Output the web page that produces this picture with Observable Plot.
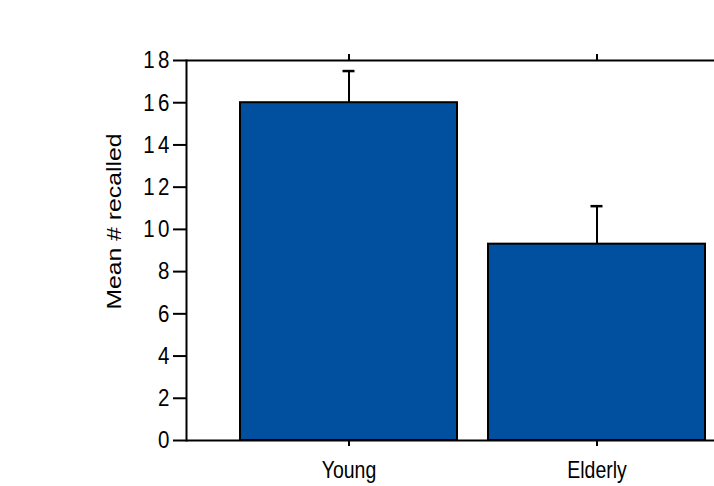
<!DOCTYPE html>
<html>
<head>
<meta charset="utf-8">
<script src="https://cdn.jsdelivr.net/npm/d3@7"></script>
<script src="https://cdn.jsdelivr.net/npm/@observablehq/plot@0.6"></script>
<style>
  html, body { margin: 0; padding: 0; background: #fff; }
  #chart svg { display: block; }
</style>
</head>
<body>
<div id="chart"></div>
<script>
const categories = ["Young", "Elderly"];
const means = [16, 9.3];
const errorTops = [17.5, 11.1];
const yTicks = [0, 2, 4, 6, 8, 10, 12, 14, 16, 18];
const yLabel = "Mean # recalled";

const data = categories.map((c, i) => ({ group: c, mean: means[i], upper: errorTops[i] }));

const font = "'Liberation Sans', Arial, Helvetica, sans-serif";

const chart = Plot.plot({
  width: 714,
  height: 486,
  marginLeft: 186,
  marginRight: 0,
  marginTop: 60,
  marginBottom: 46,
  style: { fontFamily: font, fontSize: "19.5px", background: "#fff", color: "#000" },
  x: { domain: categories, range: [186, 758], paddingInner: 0.125, paddingOuter: 0.2157, label: null },
  y: { domain: [0, 18], label: null },
  marks: [
    Plot.barY(data, { x: "group", y: "mean", fill: "#00509f", stroke: "#000", strokeWidth: 2 }),
    Plot.ruleX(data, { x: "group", y1: "mean", y2: "upper", stroke: "#000", strokeWidth: 2 }),
    Plot.tickY(data, { x: "group", y: "upper", stroke: "#000", strokeWidth: 2.5, insetLeft: 102.5, insetRight: 102.5 }),
    Plot.ruleY([0, 18], { stroke: "#000", strokeWidth: 2 }),
    Plot.frame({ anchor: "left", stroke: "#000", strokeWidth: 2 }),
    Plot.axisY({ ticks: yTicks, tickSize: 13, tickPadding: 0.5, strokeWidth: 2, fontSize: 20.5, label: null }),
    Plot.axisX({ anchor: "bottom", tickSize: 6, tickPadding: 15, strokeWidth: 2, fontSize: 19.5, label: null }),
    Plot.axisX({ anchor: "top", tickSize: 7, strokeWidth: 2, tickFormat: () => "", label: null }),
    Plot.text([yLabel], { frameAnchor: "left", textAnchor: "middle", text: d => d, rotate: -90, dx: -72, dy: -29, fontSize: 20.5, fill: "#000", ariaLabel: "y-label" })
  ]
});

// the reference is stretched vertically: stretch the glyphs to match
chart.querySelectorAll("g[aria-label='y-axis tick label'] text").forEach(t => {
  t.style.letterSpacing = "3.5px";
});
chart.querySelectorAll("text").forEach(t => {
  const tr = t.getAttribute("transform");
  if (tr && tr.includes("rotate")) {
    t.setAttribute("textLength", "176");
    t.setAttribute("lengthAdjust", "spacingAndGlyphs");
    return;
  }
  const s = "scale(1,1.2)";
  if (tr) {
    t.setAttribute("transform", tr + " " + s);
  } else {
    const x = +t.getAttribute("x") || 0, y = +t.getAttribute("y") || 0;
    t.setAttribute("transform", `translate(${x},${y}) ${s} translate(${-x},${-y})`);
  }
});

document.getElementById("chart").appendChild(chart);
</script>
</body>
</html>
